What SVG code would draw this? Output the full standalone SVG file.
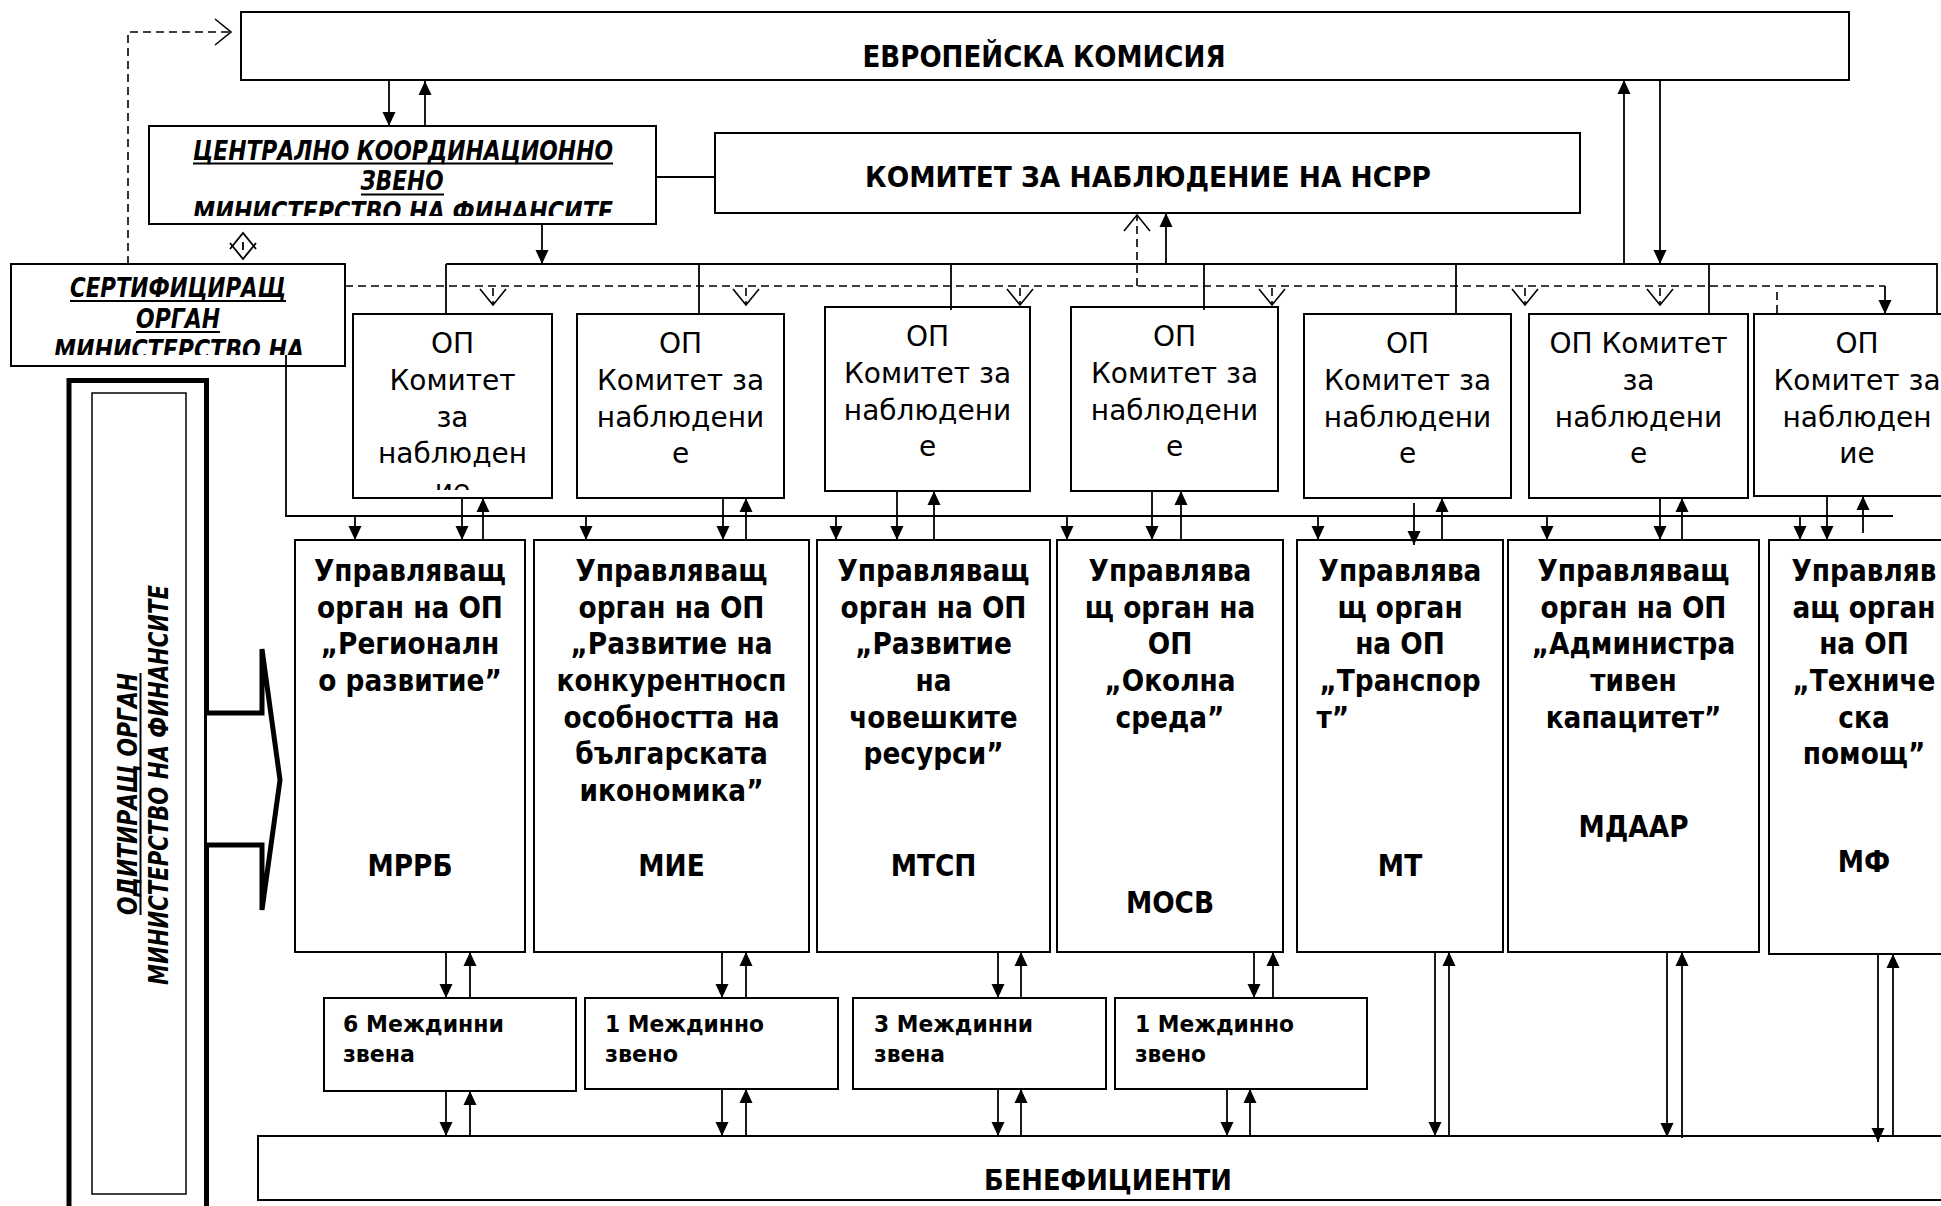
<svg xmlns="http://www.w3.org/2000/svg" width="1941" height="1206" viewBox="0 0 1941 1206">
<style>
.box{fill:#fff;stroke:#000;stroke-width:2}
.ln{fill:none;stroke:#000;stroke-width:1.8}
.dl{fill:none;stroke:#000;stroke-width:1.6;stroke-dasharray:8 5}
.ul{stroke:#000;stroke-width:2}
text{font-family:"DejaVu Sans",sans-serif;fill:#000}
.op{font-size:28px;text-anchor:middle}
.uo{font-size:30px;font-weight:bold;text-anchor:middle}
.mz{font-size:23px;font-weight:bold}
.hd{font-weight:bold;text-anchor:middle}
.it{font-weight:bold;font-style:italic;font-size:26.5px;text-anchor:middle}
.au{font-weight:bold;font-style:italic;font-size:27px;text-anchor:middle}
</style>
<defs>
<marker id="ah" markerUnits="userSpaceOnUse" markerWidth="14" markerHeight="13" refX="14" refY="6.5" orient="auto" overflow="visible"><path d="M0,0 L14,6.5 L0,13 z" fill="#000"/></marker>
<marker id="oh" markerUnits="userSpaceOnUse" markerWidth="16" markerHeight="26" refX="16" refY="13" orient="auto" overflow="visible"><path d="M0,0 L16,13 L0,26" fill="none" stroke="#000" stroke-width="1.6"/></marker>
<clipPath id="cCKZ"><rect x="149" y="126" width="507" height="90"/></clipPath>
<clipPath id="cCO"><rect x="11" y="264" width="334" height="91"/></clipPath>
<clipPath id="cOP1"><rect x="353" y="314" width="199" height="176"/></clipPath>
</defs>
<rect x="0" y="0" width="1941" height="1206" fill="#fff"/>

<g id="audit">
<rect x="69" y="380.5" width="137.5" height="840" fill="#fff" stroke="#000" stroke-width="5"/>
<rect x="92" y="393" width="94" height="801" fill="none" stroke="#000" stroke-width="1.5"/>
<text class="au" x="137" y="794" transform="rotate(-90 137 794)" textLength="242" lengthAdjust="spacingAndGlyphs">ОДИТИРАЩ ОРГАН</text>
<line class="ul" x1="140.5" y1="673" x2="140.5" y2="915"/>
<text class="au" x="168" y="785" transform="rotate(-90 168 785)" textLength="400" lengthAdjust="spacingAndGlyphs">МИНИСТЕРСТВО НА ФИНАНСИТЕ</text>
<path d="M207,713 H262 V649 L280,780 L262,910 V845 H207" fill="#fff" stroke="#000" stroke-width="5"/>
</g>

<g id="ek">
<rect class="box" x="241" y="12" width="1608" height="68"/>
<text class="hd" x="1044" y="67" font-size="30" textLength="363" lengthAdjust="spacingAndGlyphs">ЕВРОПЕЙСКА КОМИСИЯ</text>
</g>

<g id="ckz">
<rect class="box" x="149" y="126" width="507" height="98"/>
<g clip-path="url(#cCKZ)">
<text class="it" x="403" y="160" textLength="420" lengthAdjust="spacingAndGlyphs">ЦЕНТРАЛНО КООРДИНАЦИОННО</text>
<text class="it" x="402" y="190" textLength="83" lengthAdjust="spacingAndGlyphs">ЗВЕНО</text>
<text class="it" x="403" y="221" textLength="420" lengthAdjust="spacingAndGlyphs">МИНИСТЕРСТВО НА ФИНАНСИТЕ</text>
</g>
<line class="ul" x1="193" y1="163.5" x2="613" y2="163.5"/>
<line class="ul" x1="361" y1="194.5" x2="444" y2="194.5"/>
</g>

<g id="kn">
<rect class="box" x="715" y="133" width="865" height="80"/>
<text class="hd" x="1148" y="187" font-size="28" textLength="566" lengthAdjust="spacingAndGlyphs">КОМИТЕТ ЗА НАБЛЮДЕНИЕ НА НСРР</text>
</g>

<g id="co">
<rect class="box" x="11" y="264" width="334" height="102"/>
<g clip-path="url(#cCO)">
<text class="it" x="178" y="297" textLength="216" lengthAdjust="spacingAndGlyphs">СЕРТИФИЦИРАЩ</text>
<text class="it" x="178" y="328" textLength="84" lengthAdjust="spacingAndGlyphs">ОРГАН</text>
<text class="it" x="179" y="359" textLength="250" lengthAdjust="spacingAndGlyphs">МИНИСТЕРСТВО НА</text>
</g>
<line class="ul" x1="70" y1="301" x2="286" y2="301"/>
<line class="ul" x1="136" y1="332" x2="220" y2="332"/>
</g>

<g id="op1">
<rect class="box" x="353" y="314" width="199" height="184"/>
<g clip-path="url(#cOP1)">
<text class="op" x="452.5" y="353">ОП</text>
<text class="op" x="452.5" y="390">Комитет</text>
<text class="op" x="452.5" y="427">за</text>
<text class="op" x="452.5" y="463">наблюден</text>
<text class="op" x="452.5" y="500">ие</text>
</g>
</g>
<g id="op2">
<rect class="box" x="577" y="314" width="207" height="184"/>
<text class="op" x="680.5" y="353">ОП</text>
<text class="op" x="680.5" y="390">Комитет за</text>
<text class="op" x="680.5" y="427">наблюдени</text>
<text class="op" x="680.5" y="463">е</text>
</g>
<g id="op3">
<rect class="box" x="825" y="307" width="205" height="184"/>
<text class="op" x="927.5" y="346">ОП</text>
<text class="op" x="927.5" y="383">Комитет за</text>
<text class="op" x="927.5" y="420">наблюдени</text>
<text class="op" x="927.5" y="456">е</text>
</g>
<g id="op4">
<rect class="box" x="1071" y="307" width="207" height="184"/>
<text class="op" x="1174.5" y="346">ОП</text>
<text class="op" x="1174.5" y="383">Комитет за</text>
<text class="op" x="1174.5" y="420">наблюдени</text>
<text class="op" x="1174.5" y="456">е</text>
</g>
<g id="op5">
<rect class="box" x="1304" y="314" width="207" height="184"/>
<text class="op" x="1407.5" y="353">ОП</text>
<text class="op" x="1407.5" y="390">Комитет за</text>
<text class="op" x="1407.5" y="427">наблюдени</text>
<text class="op" x="1407.5" y="463">е</text>
</g>
<g id="op6">
<rect class="box" x="1529" y="314" width="219" height="184"/>
<text class="op" x="1638.5" y="353">ОП Комитет</text>
<text class="op" x="1638.5" y="390">за</text>
<text class="op" x="1638.5" y="427">наблюдени</text>
<text class="op" x="1638.5" y="463">е</text>
</g>
<g id="op7">
<rect class="box" x="1754" y="314" width="206" height="182"/>
<text class="op" x="1857" y="353">ОП</text>
<text class="op" x="1857" y="390">Комитет за</text>
<text class="op" x="1857" y="427">наблюден</text>
<text class="op" x="1857" y="463">ие</text>
</g>

<g id="uo1">
<rect class="box" x="295" y="540" width="230" height="412"/>
<g transform="translate(410 0) scale(0.88 1)">
<text class="uo" x="0" y="581">Управляващ</text>
<text class="uo" x="0" y="618">орган на ОП</text>
<text class="uo" x="0" y="654">„Регионалн</text>
<text class="uo" x="0" y="691">о развитие”</text>
<text class="uo" x="0" y="876">МРРБ</text>
</g>
</g>
<g id="uo2">
<rect class="box" x="534" y="540" width="275" height="412"/>
<g transform="translate(671.5 0) scale(0.88 1)">
<text class="uo" x="0" y="581">Управляващ</text>
<text class="uo" x="0" y="618">орган на ОП</text>
<text class="uo" x="0" y="654">„Развитие на</text>
<text class="uo" x="0" y="691">конкурентносп</text>
<text class="uo" x="0" y="728">особността на</text>
<text class="uo" x="0" y="764">българската</text>
<text class="uo" x="0" y="801">икономика”</text>
<text class="uo" x="0" y="876">МИЕ</text>
</g>
</g>
<g id="uo3">
<rect class="box" x="817" y="540" width="233" height="412"/>
<g transform="translate(933.5 0) scale(0.88 1)">
<text class="uo" x="0" y="581">Управляващ</text>
<text class="uo" x="0" y="618">орган на ОП</text>
<text class="uo" x="0" y="654">„Развитие</text>
<text class="uo" x="0" y="691">на</text>
<text class="uo" x="0" y="728">човешките</text>
<text class="uo" x="0" y="764">ресурси”</text>
<text class="uo" x="0" y="876">МТСП</text>
</g>
</g>
<g id="uo4">
<rect class="box" x="1057" y="540" width="226" height="412"/>
<g transform="translate(1170 0) scale(0.88 1)">
<text class="uo" x="0" y="581">Управлява</text>
<text class="uo" x="0" y="618">щ орган на</text>
<text class="uo" x="0" y="654">ОП</text>
<text class="uo" x="0" y="691">„Околна</text>
<text class="uo" x="0" y="728">среда”</text>
<text class="uo" x="0" y="913">МОСВ</text>
</g>
</g>
<g id="uo5">
<rect class="box" x="1297" y="540" width="206" height="412"/>
<g transform="translate(1400 0) scale(0.88 1)">
<text class="uo" x="0" y="581">Управлява</text>
<text class="uo" x="0" y="618">щ орган</text>
<text class="uo" x="0" y="654">на ОП</text>
<text class="uo" x="0" y="691">„Транспор</text>
<text class="uo" x="-95" y="728" style="text-anchor:start">т”</text>
<text class="uo" x="0" y="876">МТ</text>
</g>
</g>
<g id="uo6">
<rect class="box" x="1508" y="540" width="251" height="412"/>
<g transform="translate(1633.5 0) scale(0.88 1)">
<text class="uo" x="0" y="581">Управляващ</text>
<text class="uo" x="0" y="618">орган на ОП</text>
<text class="uo" x="0" y="654">„Администра</text>
<text class="uo" x="0" y="691">тивен</text>
<text class="uo" x="0" y="728">капацитет”</text>
<text class="uo" x="0" y="837">МДААР</text>
</g>
</g>
<g id="uo7">
<rect class="box" x="1769" y="540" width="190" height="414"/>
<g transform="translate(1864 0) scale(0.88 1)">
<text class="uo" x="0" y="581">Управляв</text>
<text class="uo" x="0" y="618">ащ орган</text>
<text class="uo" x="0" y="654">на ОП</text>
<text class="uo" x="0" y="691">„Техниче</text>
<text class="uo" x="0" y="728">ска</text>
<text class="uo" x="0" y="764">помощ”</text>
<text class="uo" x="0" y="872">МФ</text>
</g>
</g>

<g id="mz1">
<rect class="box" x="324" y="998" width="252" height="93"/>
<text class="mz" x="343" y="1032" textLength="161" lengthAdjust="spacingAndGlyphs">6 Междинни</text>
<text class="mz" x="343" y="1062" textLength="72" lengthAdjust="spacingAndGlyphs">звена</text>
</g>
<g id="mz2">
<rect class="box" x="585" y="998" width="253" height="91"/>
<text class="mz" x="605" y="1032" textLength="159" lengthAdjust="spacingAndGlyphs">1 Междинно</text>
<text class="mz" x="605" y="1062" textLength="73" lengthAdjust="spacingAndGlyphs">звено</text>
</g>
<g id="mz3">
<rect class="box" x="853" y="998" width="253" height="91"/>
<text class="mz" x="874" y="1032" textLength="159" lengthAdjust="spacingAndGlyphs">3 Междинни</text>
<text class="mz" x="874" y="1062" textLength="71" lengthAdjust="spacingAndGlyphs">звена</text>
</g>
<g id="mz4">
<rect class="box" x="1115" y="998" width="252" height="91"/>
<text class="mz" x="1135" y="1032" textLength="159" lengthAdjust="spacingAndGlyphs">1 Междинно</text>
<text class="mz" x="1135" y="1062" textLength="71" lengthAdjust="spacingAndGlyphs">звено</text>
</g>

<g id="ben">
<rect class="box" x="258" y="1136" width="1700" height="64"/>
<text class="hd" x="1108" y="1190" font-size="29" textLength="248" lengthAdjust="spacingAndGlyphs">БЕНЕФИЦИЕНТИ</text>
</g>

<g id="connectors">
<line class="ln" x1="389" y1="80" x2="389" y2="126" marker-end="url(#ah)"/>
<line class="ln" x1="425" y1="126" x2="425" y2="81" marker-end="url(#ah)"/>
<line class="ln" x1="656" y1="177" x2="715" y2="177"/>
<line class="ln" x1="542" y1="224" x2="542" y2="264" marker-end="url(#ah)"/>
<path class="ln" d="M446,264 H1937 V314"/>
<line class="ln" x1="446" y1="264" x2="446" y2="314"/>
<line class="ln" x1="699" y1="264" x2="699" y2="314"/>
<line class="ln" x1="951" y1="264" x2="951" y2="310"/>
<line class="ln" x1="1204" y1="264" x2="1204" y2="310"/>
<line class="ln" x1="1456" y1="264" x2="1456" y2="314"/>
<line class="ln" x1="1709" y1="264" x2="1709" y2="314"/>
<line class="ln" x1="1166" y1="264" x2="1166" y2="213" marker-end="url(#ah)"/>
<line class="ln" x1="1624" y1="264" x2="1624" y2="80" marker-end="url(#ah)"/>
<line class="ln" x1="1660" y1="80" x2="1660" y2="264" marker-end="url(#ah)"/>
<path class="dl" d="M128,264 V32 H231" marker-end="url(#oh)"/>
<path class="ln" d="M230,249 L243,233 L256,249 M230,243 L243,259 L256,243" stroke-width="1.6"/>
<line class="ln" x1="243" y1="242" x2="243" y2="250" stroke-width="1.4"/>
<line class="dl" x1="345" y1="286" x2="1885" y2="286"/>
<line class="ln" x1="1885" y1="286" x2="1885" y2="314" marker-end="url(#ah)"/>
<line class="dl" x1="1777" y1="292" x2="1777" y2="314"/>
<line class="dl" x1="1137" y1="286" x2="1137" y2="215" marker-end="url(#oh)"/>
<line class="dl" x1="493" y1="288" x2="493" y2="305" marker-end="url(#oh)"/>
<line class="dl" x1="746" y1="288" x2="746" y2="305" marker-end="url(#oh)"/>
<line class="dl" x1="1020" y1="288" x2="1020" y2="305" marker-end="url(#oh)"/>
<line class="dl" x1="1272" y1="288" x2="1272" y2="305" marker-end="url(#oh)"/>
<line class="dl" x1="1525" y1="288" x2="1525" y2="305" marker-end="url(#oh)"/>
<line class="dl" x1="1660" y1="288" x2="1660" y2="305" marker-end="url(#oh)"/>
<path class="ln" d="M286,355 V516 H1893"/>
<line class="ln" x1="355" y1="516" x2="355" y2="540" marker-end="url(#ah)"/>
<line class="ln" x1="586" y1="516" x2="586" y2="540" marker-end="url(#ah)"/>
<line class="ln" x1="836" y1="516" x2="836" y2="540" marker-end="url(#ah)"/>
<line class="ln" x1="1067" y1="516" x2="1067" y2="540" marker-end="url(#ah)"/>
<line class="ln" x1="1318" y1="516" x2="1318" y2="540" marker-end="url(#ah)"/>
<line class="ln" x1="1547" y1="516" x2="1547" y2="540" marker-end="url(#ah)"/>
<line class="ln" x1="1800" y1="516" x2="1800" y2="540" marker-end="url(#ah)"/>
<line class="ln" x1="462" y1="498" x2="462" y2="540" marker-end="url(#ah)"/>
<line class="ln" x1="483" y1="540" x2="483" y2="498" marker-end="url(#ah)"/>
<line class="ln" x1="723" y1="498" x2="723" y2="540" marker-end="url(#ah)"/>
<line class="ln" x1="746" y1="540" x2="746" y2="498" marker-end="url(#ah)"/>
<line class="ln" x1="897" y1="491" x2="897" y2="540" marker-end="url(#ah)"/>
<line class="ln" x1="934" y1="540" x2="934" y2="491" marker-end="url(#ah)"/>
<line class="ln" x1="1152" y1="491" x2="1152" y2="540" marker-end="url(#ah)"/>
<line class="ln" x1="1181" y1="540" x2="1181" y2="491" marker-end="url(#ah)"/>
<line class="ln" x1="1414" y1="503" x2="1414" y2="545" marker-end="url(#ah)"/>
<line class="ln" x1="1442" y1="540" x2="1442" y2="498" marker-end="url(#ah)"/>
<line class="ln" x1="1660" y1="498" x2="1660" y2="540" marker-end="url(#ah)"/>
<line class="ln" x1="1682" y1="540" x2="1682" y2="498" marker-end="url(#ah)"/>
<line class="ln" x1="1827" y1="496" x2="1827" y2="540" marker-end="url(#ah)"/>
<line class="ln" x1="1863" y1="533" x2="1863" y2="496" marker-end="url(#ah)"/>
<line class="ln" x1="446" y1="952" x2="446" y2="998" marker-end="url(#ah)"/>
<line class="ln" x1="470" y1="998" x2="470" y2="952" marker-end="url(#ah)"/>
<line class="ln" x1="722" y1="952" x2="722" y2="998" marker-end="url(#ah)"/>
<line class="ln" x1="746" y1="998" x2="746" y2="952" marker-end="url(#ah)"/>
<line class="ln" x1="998" y1="952" x2="998" y2="998" marker-end="url(#ah)"/>
<line class="ln" x1="1021" y1="998" x2="1021" y2="952" marker-end="url(#ah)"/>
<line class="ln" x1="1254" y1="952" x2="1254" y2="998" marker-end="url(#ah)"/>
<line class="ln" x1="1273" y1="998" x2="1273" y2="952" marker-end="url(#ah)"/>
<line class="ln" x1="446" y1="1091" x2="446" y2="1136" marker-end="url(#ah)"/>
<line class="ln" x1="470" y1="1136" x2="470" y2="1091" marker-end="url(#ah)"/>
<line class="ln" x1="722" y1="1089" x2="722" y2="1136" marker-end="url(#ah)"/>
<line class="ln" x1="746" y1="1136" x2="746" y2="1089" marker-end="url(#ah)"/>
<line class="ln" x1="998" y1="1089" x2="998" y2="1136" marker-end="url(#ah)"/>
<line class="ln" x1="1021" y1="1136" x2="1021" y2="1089" marker-end="url(#ah)"/>
<line class="ln" x1="1227" y1="1089" x2="1227" y2="1136" marker-end="url(#ah)"/>
<line class="ln" x1="1250" y1="1136" x2="1250" y2="1089" marker-end="url(#ah)"/>
<line class="ln" x1="1435" y1="952" x2="1435" y2="1136" marker-end="url(#ah)"/>
<line class="ln" x1="1449" y1="1136" x2="1449" y2="952" marker-end="url(#ah)"/>
<line class="ln" x1="1667" y1="952" x2="1667" y2="1137" marker-end="url(#ah)"/>
<line class="ln" x1="1682" y1="1138" x2="1682" y2="952" marker-end="url(#ah)"/>
<line class="ln" x1="1878" y1="954" x2="1878" y2="1142" marker-end="url(#ah)"/>
<line class="ln" x1="1893" y1="1136" x2="1893" y2="954" marker-end="url(#ah)"/>
</g>
</svg>
